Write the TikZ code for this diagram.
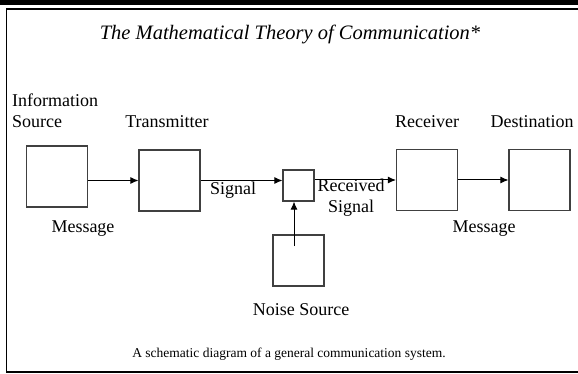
\documentclass[tikz,border=0pt]{standalone}
\usepackage{fontspec}
\setmainfont{Liberation Serif}
\usetikzlibrary{arrows.meta,positioning}

\begin{document}
\begin{tikzpicture}[x=1pt,y=-1pt,
  font=\fontsize{18}{21}\selectfont,
  blk/.style={draw=black!75,line width=1.1pt,minimum width=61pt,minimum height=61pt,inner sep=0pt},
  lbl/.style={inner sep=0pt,anchor=base},
  arr/.style={-{Latex[length=8pt,width=7pt]},line width=1pt}]
\useasboundingbox (0,0) rectangle (578,374);
% ---- page frame ----
\fill[black] (0,0) rectangle (578,5);
\draw[line width=1.4pt] (578,9) -- (6.5,9) -- (6.5,372) -- (578,372);
\node[lbl,font=\fontsize{20.5}{24}\selectfont\itshape] (title) at (290,40) {The Mathematical Theory of Communication*};
% ---- blocks ----
\node[blk] (src)   at (57,176.5) {};
\node[blk] (tx)    at (169.5,180.5) {};
\node[blk,minimum width=31pt,minimum height=31pt] (mix) at (298.5,185.5) {};
\node[blk,minimum width=51pt,minimum height=51pt] (noise) at (298.5,260.5) {};
\node[blk] (rx)    at (427,180) {};
\node[blk] (dst)   at (539.5,180) {};
\coordinate (nz) at (294,246);
% ---- labels ----
\node[lbl,anchor=base west,align=left] (srcL) at (12,128) {Information\\Source};
\node[lbl] (txL)  at (167,128) {Transmitter};
\node[lbl] (rxL)  at (427,128) {Receiver};
\node[lbl] (dstL) at (532,128) {Destination};
\node[lbl] (msg1) at (83,233) {Message};
\node[lbl] (msg2) at (484,233) {Message};
\node[lbl] (sig)  at (233,195) {Signal};
\node[lbl,align=center] (rsig) at (351,213) {Received\\Signal};
\node[lbl] (noiseL) at (301,315) {Noise Source};
\node[lbl,font=\fontsize{13.5}{16}\selectfont] (cap) at (289,357) {A schematic diagram of a general communication system.};
% ---- connectors ----
\draw[arr] (src.east|-tx.west) -- (tx.west);
\draw[arr] (tx.east) -- (mix.west|-tx.east);
\draw[arr] (mix.east|-rx.west) -- (rx.west);
\draw[arr] (rx.east) -- (dst.west);
\draw[arr] (nz) -- (nz|-mix.south);
\end{tikzpicture}
\end{document}
